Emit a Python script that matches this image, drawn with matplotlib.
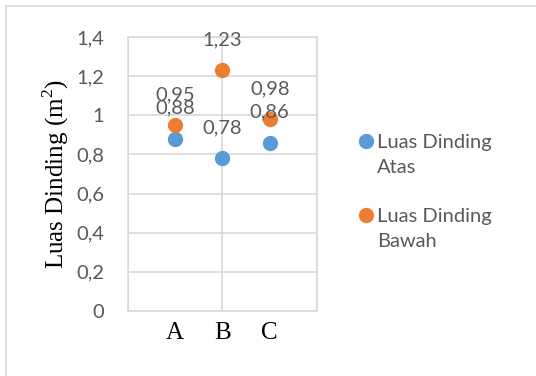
import matplotlib.pyplot as plt
from matplotlib.lines import Line2D
from matplotlib.patches import Rectangle

# data
categories = ['A', 'B', 'C']
x_pos = [1, 2, 3]
atas = [0.88, 0.78, 0.86]
bawah = [0.95, 1.23, 0.98]
series_names = ['Luas Dinding\nAtas', 'Luas Dinding\nBawah']
y_ticks = [0, 0.2, 0.4, 0.6, 0.8, 1.0, 1.2, 1.4]

blue = '#5B9BD5'
orange = '#ED7D31'
grey_txt = '#595959'
sans = 'Lato'
serif = 'Liberation Serif'
fs = 14.5
plt.rcParams['mathtext.fontset'] = 'custom'
plt.rcParams['mathtext.rm'] = serif

fig = plt.figure(figsize=(5.36, 3.76), dpi=100)
ax = fig.add_axes([0.2388, 0.1729, 0.3526, 0.7287])

# outer chart border
fig.add_artist(Rectangle((6 / 536, -0.01), 1.0, 1 - 6 / 376 + 0.01,
                         transform=fig.transFigure, fill=False,
                         edgecolor='#D9D9D9', lw=1.2))

ax.plot(x_pos, atas, 'o', color=blue, ms=10, zorder=3)
ax.plot(x_pos, bawah, 'o', color=orange, ms=10, zorder=3)

# data labels
for vals in (atas, bawah):
    for x, v in zip(x_pos, vals):
        ax.annotate(('%.2f' % v).replace('.', ','), (x, v), xytext=(0, 22),
                    textcoords='offset points', ha='center', va='center',
                    fontsize=fs, color=grey_txt, family=sans)

ax.set_xlim(0, 4)
ax.set_ylim(0, 1.4)
ax.set_xticks([0, 2, 4])
ax.set_xticklabels([])
ax.set_yticks(y_ticks)
ax.set_yticklabels([('%g' % t).replace('.', ',') for t in y_ticks],
                   fontsize=fs, color=grey_txt, family=sans)
ax.tick_params(length=0, axis='y', pad=17)
ax.tick_params(length=0, axis='x')
ax.grid(True, color='#D9D9D9', lw=1.2)
ax.set_axisbelow(True)
for s in ax.spines.values():
    s.set_color('#D9D9D9')
    s.set_linewidth(1.2)

# category labels below the plot
for x, c in zip(x_pos, categories):
    ax.text(x, -0.115, c, ha='center', va='center', fontsize=18,
            family=serif, color='black')

ax.set_ylabel('Luas Dinding (m$^2$)', fontsize=18, family=serif, labelpad=4)

# legend, drawn by hand so the marker sits at the first line
for i, (name, col) in enumerate(zip(series_names, [blue, orange])):
    y0 = 1 - (141 + i * 74) / 376
    fig.add_artist(Line2D([366 / 536], [y0], marker='o', color=col, ms=10,
                          transform=fig.transFigure))
    fig.text(377 / 536, y0 + 0.018, name, ha='left', va='top', fontsize=fs,
             color=grey_txt, family=sans, linespacing=1.55)

fig.savefig('out.png', dpi=100)
